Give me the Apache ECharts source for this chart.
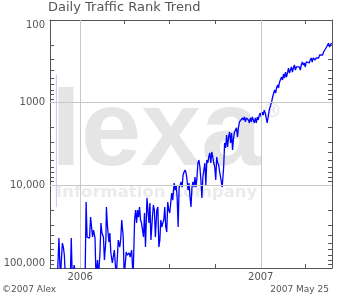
<!DOCTYPE html>
<html><head><meta charset="utf-8">
<script src="https://cdn.jsdelivr.net/npm/echarts@6/dist/echarts.min.js"></script>
<style>html,body{margin:0;padding:0;background:#fff}#c{width:345px;height:296px}</style>
</head><body><div id="c"></div>
<script>
// ---- data ----
const dates = [
'2005-11-16','2005-11-19','2005-11-22','2005-11-26','2005-11-28','2005-11-30','2005-12-02','2005-12-12','2005-12-14','2005-12-16',
'2005-12-20','2005-12-22','2006-01-11','2006-01-13','2006-01-15','2006-01-20','2006-01-22','2006-01-25','2006-01-26','2006-01-28',
'2006-01-31','2006-02-02','2006-02-05','2006-02-07','2006-02-10','2006-02-12','2006-02-14','2006-02-17','2006-02-19','2006-02-22',
'2006-02-23','2006-02-25','2006-02-28','2006-03-02','2006-03-04','2006-03-07','2006-03-11','2006-03-15','2006-03-19','2006-03-22',
'2006-03-24','2006-03-26','2006-03-29','2006-03-31','2006-04-04','2006-04-06','2006-04-10','2006-04-12','2006-04-15','2006-04-18',
'2006-04-21','2006-04-23','2006-04-25','2006-04-27','2006-04-29','2006-05-01','2006-05-03','2006-05-05','2006-05-09','2006-05-11',
'2006-05-13','2006-05-16','2006-05-18','2006-05-20','2006-05-22','2006-05-24','2006-05-27','2006-05-29','2006-05-31','2006-06-02',
'2006-06-05','2006-06-07','2006-06-09','2006-06-11','2006-06-13','2006-06-15','2006-06-17','2006-06-19','2006-06-21','2006-06-23',
'2006-06-25','2006-06-27','2006-06-29','2006-07-01','2006-07-03','2006-07-05','2006-07-07','2006-07-10','2006-07-12','2006-07-14',
'2006-07-16','2006-07-18','2006-07-20','2006-07-22','2006-07-24','2006-07-26','2006-07-28','2006-07-30','2006-08-01','2006-08-03',
'2006-08-05','2006-08-07','2006-08-09','2006-08-11','2006-08-13','2006-08-15','2006-08-17','2006-08-19','2006-08-21','2006-08-23',
'2006-08-25','2006-08-27','2006-08-29','2006-08-31','2006-09-02','2006-09-04','2006-09-06','2006-09-08','2006-09-10','2006-09-12',
'2006-09-14','2006-09-16','2006-09-18','2006-09-20','2006-09-22','2006-09-24','2006-09-26','2006-09-28','2006-09-30','2006-10-02',
'2006-10-04','2006-10-06','2006-10-08','2006-10-10','2006-10-12','2006-10-15','2006-10-18','2006-10-20','2006-10-22','2006-10-24',
'2006-10-26','2006-10-28','2006-10-30','2006-11-01','2006-11-03','2006-11-05','2006-11-07','2006-11-09','2006-11-11','2006-11-13',
'2006-11-15','2006-11-17','2006-11-19','2006-11-21','2006-11-23','2006-11-25','2006-11-27','2006-11-29','2006-12-01','2006-12-03',
'2006-12-05','2006-12-07','2006-12-09','2006-12-11','2006-12-13','2006-12-15','2006-12-17','2006-12-19','2006-12-21','2006-12-23',
'2006-12-25','2006-12-27','2006-12-29','2006-12-31','2007-01-02','2007-01-04','2007-01-06','2007-01-08','2007-01-10','2007-01-12',
'2007-01-14','2007-01-16','2007-01-18','2007-01-21','2007-01-23','2007-01-25','2007-01-27','2007-01-29','2007-01-31','2007-02-02',
'2007-02-04','2007-02-06','2007-02-08','2007-02-10','2007-02-12','2007-02-14','2007-02-16','2007-02-18','2007-02-20','2007-02-22',
'2007-02-24','2007-02-26','2007-02-28','2007-03-02','2007-03-04','2007-03-06','2007-03-08','2007-03-10','2007-03-12','2007-03-14',
'2007-03-16','2007-03-18','2007-03-20','2007-03-22','2007-03-24','2007-03-26','2007-03-28','2007-03-30','2007-04-01','2007-04-03',
'2007-04-05','2007-04-07','2007-04-09','2007-04-11','2007-04-13','2007-04-15','2007-04-17','2007-04-19','2007-04-21','2007-04-23',
'2007-04-26','2007-04-28','2007-04-30','2007-05-02','2007-05-04','2007-05-06','2007-05-08','2007-05-10','2007-05-12','2007-05-14',
'2007-05-16','2007-05-18','2007-05-20','2007-05-22','2007-05-24'
];
const ranks = [
130000,43400,130000,49900,55800,69600,130000,130000,43400,130000,
92000,130000,130000,15900,42200,43400,24200,24800,42200,34700,
43400,130000,80000,130000,65800,28600,37800,42200,80000,45900,
18300,30200,48500,37800,65800,87000,60600,130000,45900,55800,
44600,26300,42200,130000,64000,69600,65800,73600,60600,130000,
26300,19900,28600,19900,24200,18300,26300,28600,42200,21600,
55800,14200,13800,28600,16400,45900,24200,17300,19900,42200,
19900,18300,55800,45900,26300,31900,28600,26300,18300,31900,
36700,15900,19900,21600,16400,12400,15100,9370,11400,9900,
13800,31900,10500,9900,9110,10500,7500,6900,6520,7090,
8620,11400,9370,13800,18300,10500,9110,10500,7930,10500,
8150,5370,4940,6000,8620,14200,7930,6520,5370,9900,
4940,5370,4540,4060,5370,3950,4540,5370,6000,8620,
4540,5370,5680,6900,8150,10500,6000,3080,3530,2460,
3440,2600,2260,3080,2330,3740,2670,2260,2330,2020,
2600,1970,1710,1760,1710,1530,1620,1490,1710,1530,
1490,1620,1760,1530,1710,1490,1620,1760,1530,1760,
1490,1620,1410,1330,1490,1300,1410,1230,1330,1300,
1760,1490,1230,1070,980,854,808,703,764,665,
611,665,562,578,490,532,450,503,426,490,
438,381,438,403,370,426,381,350,403,370,
381,350,370,403,350,322,350,331,370,322,
322,305,331,305,288,322,288,280,305,288,
280,288,265,280,251,265,244,251,231,212,
218,190,212,200,190
];
const gapDates = ['2005-11-14','2005-11-14'];
const gapRanks = [460, 18300];
const xStart = '2005-11-01';
const xEnd = '2007-05-25';
const xTickDates = ['2006-01-01','2006-04-01','2006-07-01','2006-10-01','2007-01-01','2007-04-01'];
const xLabelDates = ['2006-01-01','2007-01-01'];
const xLabelTexts = ['2006','2007'];
const yTickValues = [100,200,300,400,500,600,700,800,900,1000,2000,3000,4000,5000,6000,7000,8000,9000,10000,
  20000,30000,40000,50000,60000,70000,80000,90000,100000];
const yLabelValues = [100,1000,10000,100000];
const yLabelTexts = ['100','1000','10,000','100,000'];
const gridYears = ['2006-01-01','2007-01-01'];
const gridRanks = [1000,10000];
const titleText = 'Daily Traffic Rank Trend';
const footLeft = '\u00a92007 Alex';
const footRight = '2007 May 25';

// ---- chart ----
function ts(s){const p=s.split('-').map(Number);return new Date(p[0],p[1]-1,p[2]).getTime();}
const FONT = 'DejaVu Sans';
const AX = '#555555';
const xLabelTs = xLabelDates.map(ts);
function xFmt(v){for(let i=0;i<xLabelTs.length;i++){if(Math.abs(v-xLabelTs[i])<1000)return xLabelTexts[i];}return '';}
function yFmt(v){for(let i=0;i<yLabelValues.length;i++){if(Math.abs(v-yLabelValues[i])/yLabelValues[i]<1e-6)return yLabelTexts[i];}return '';}

function xAxisCfg(pos, showLabel){
  return {
    type:'value', position:pos, min:ts(xStart), max:ts(xEnd),
    axisLine:{show:true, onZero:false, lineStyle:{color:AX,width:1}},
    axisTick:{show:true, inside:true, length:4, customValues:xTickDates.map(ts), lineStyle:{color:AX,width:1}},
    axisLabel:{show:showLabel, customValues:xLabelTs, formatter:xFmt, color:AX, fontSize:10, fontFamily:FONT, margin:4, hideOverlap:false},
    splitLine:{show:false}, minorTick:{show:false}
  };
}
function yAxisCfg(pos, showLabel){
  return {
    type:'log', logBase:10, position:pos, min:100, max:100000, inverse:true,
    axisLine:{show:true, onZero:false, lineStyle:{color:AX,width:1}},
    axisTick:{show:true, inside:true, length:4, customValues:yTickValues, lineStyle:{color:AX,width:1}},
    axisLabel:{show:showLabel, customValues:yLabelValues, formatter:yFmt, color:AX, fontSize:10, fontFamily:FONT, margin:5,
      verticalAlignMinLabel:'top', verticalAlignMaxLabel:'bottom', showMinLabel:true, showMaxLabel:true},
    splitLine:{show:false}
  };
}

const chart = echarts.init(document.getElementById('c'), null, {renderer:'canvas'});
chart.setOption({
  animation:false,
  backgroundColor:'#ffffff',
  title:{text:titleText, left:48, top:1, padding:0, textStyle:{fontSize:13, fontWeight:'normal', color:'#555555', fontFamily:FONT}},
  grid:{left:50, top:20, width:282, height:248, containLabel:false},
  xAxis:[xAxisCfg('bottom', true), xAxisCfg('top', false)],
  yAxis:[yAxisCfg('left', true), yAxisCfg('right', false)],
  graphic:{elements:[
    {type:'text', z:-10, left:51, top:81, silent:true, style:{text:'lexa', fill:'#e5e5e5', font:'bold 108px "Liberation Sans"'}},
    {type:'text', z:-10, left:262, top:102, silent:true, style:{text:'\u00ae', fill:'#e5e5e5', font:'20px "DejaVu Sans"'}},
    {type:'text', z:-10, left:56, top:184, silent:true, style:{text:'Information Company', fill:'#ebebeb', font:'bold 16.5px "DejaVu Sans"'}},
    {type:'text', left:2, top:285, silent:true, style:{text:footLeft, fill:'#555555', font:'9px "DejaVu Sans"'}},
    {type:'text', right:16, top:285, silent:true, style:{text:footRight, fill:'#555555', font:'9px "DejaVu Sans"'}}
  ]},
  series:[
    {type:'line', xAxisIndex:0, yAxisIndex:0, data:[], z:1, silent:true,
      markLine:{silent:true, symbol:['none','none'], label:{show:false}, animation:false,
        lineStyle:{color:'#c8c8c8', type:'solid', width:1},
        data:gridYears.map(d=>({xAxis:ts(d)})).concat(gridRanks.map(r=>({yAxis:r})))}},
    {type:'line', xAxisIndex:0, yAxisIndex:0, z:2, silent:true, showSymbol:false, clip:true,
      lineStyle:{color:'#c8c8f4', width:1}, data:gapDates.map((d,i)=>[ts(d), gapRanks[i]])},
    {type:'line', xAxisIndex:0, yAxisIndex:0, z:3, silent:true, showSymbol:false, clip:true,
      lineStyle:{color:'#0000ff', width:1.3}, data:dates.map((d,i)=>[ts(d), ranks[i]])}
  ]
});
</script></body></html>
